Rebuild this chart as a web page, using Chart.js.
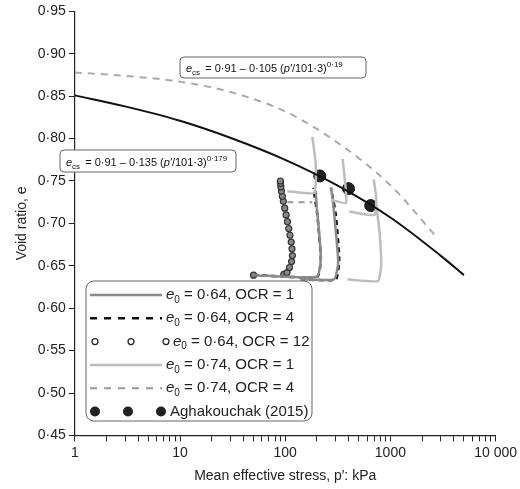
<!DOCTYPE html>
<html><head><meta charset="utf-8">
<script src="https://cdn.jsdelivr.net/npm/chart.js@4/dist/chart.umd.min.js"></script>
<style>html,body{margin:0;padding:0;background:#fff}#w{width:520px;height:489px}</style>
</head><body><div id="w"><canvas id="c"></canvas></div>
<script>
const xTickLabels = {1:'1',10:'10',100:'100',1000:'1000',10000:'10 000'};
const yTicks = [0.45,0.5,0.55,0.6,0.65,0.7,0.75,0.8,0.85,0.9,0.95];
const cslP = [1,3,10,30,100,300,1000,3000,5000];
const cslE = [0.851,0.838,0.821,0.801,0.775,0.746,0.707,0.662,0.639];
const csl2P = [1,3,10,30,100,300,1000,2740];
const csl2E = [0.878,0.874,0.867,0.855,0.832,0.797,0.745,0.684];
const a1 = [[50,.639],[200,.637],[218,.658],[210,.690],[200,.718],[195,.738]];
const a2 = [[140,.634],[292,.634],[319,.654],[303,.690],[282,.730],[272,.742]];
const a3 = [[392,.634],[760,.632],[817,.650],[788,.690],[733,.722]];
const b1 = [[50,.639],[202,.637],[218,.658],[202,.710],[185,.742]];
const b2 = [[140,.634],[303,.634],[326,.658],[303,.710],[272,.742]];
const c12 = [[50,.639],[97,.640],[104,.642],[110,.648],[115,.655],[117,.662],[116,.670],[114,.678],[111,.686],[108,.694],[105,.702],[102,.710],[99,.718],[96,.726],[94,.732],[92,.738],[91,.743],[90,.747],[90,.750]];
const d1 = [[105,.738],[188,.736],[195,.770],[181,.802]];
const d2 = [[272,.728],[378,.724],[370,.750],[351,.776]];
const d3 = [[407,.714],[706,.710],[733,.730],[695,.752]];
const e1 = [[105,.725],[181,.725]];
const aghaP = [213,400,650];
const aghaE = [0.756,0.741,0.721];

const pts = a => a.map(v=>({x:v[0],y:v[1]}));
const zip = (p,e) => p.map((v,i)=>({x:v,y:e[i]}));
const DG='#8a8a8a', LG='#bdbdbd';
const line = (data,color,dash,w)=>({data:pts(data),showLine:true,borderColor:color,borderWidth:w||2.5,borderDash:dash||[],pointRadius:0,tension:0.15,fill:false});
const F='"Liberation Sans", Arial, sans-serif';

const ds = [
  {data:zip(csl2P,csl2E),showLine:true,borderColor:'#aaaaaa',borderWidth:2,borderDash:[7,6],pointRadius:0,cubicInterpolationMode:'monotone'},
  {data:zip(cslP,cslE),showLine:true,borderColor:'#111',borderWidth:2,pointRadius:0,cubicInterpolationMode:'monotone'},
  line(d1,LG),line(d2,LG),line(d3,LG),
  line(e1,'#999',[6,5],2),
  line(a1,DG),line(a2,DG),line(a3,LG),
  line(b1,'#111',[5,4],2.5),line(b2,'#111',[5,4],2.5),
  {data:pts(c12),showLine:false,pointRadius:3,pointBorderColor:'#333',pointBackgroundColor:'#888',pointBorderWidth:1.2},
  {data:zip(aghaP,aghaE),showLine:false,pointRadius:6,pointBackgroundColor:'#222',pointBorderColor:'#111'}
];

function eqn(ctx,x,y,coef,exp){
  ctx.fillStyle='#111';ctx.textBaseline='alphabetic';ctx.textAlign='left';
  ctx.font='italic 11px '+F; ctx.fillText('e',x,y); x+=ctx.measureText('e').width;
  ctx.font='8px '+F; ctx.fillText('cs',x,y+3); x+=ctx.measureText('cs').width+2;
  ctx.font='11px '+F; let t=' = 0·91 – '+coef+' (';
  ctx.fillText(t,x,y); x+=ctx.measureText(t).width;
  ctx.font='italic 11px '+F; ctx.fillText('p′',x,y); x+=ctx.measureText('p′').width;
  ctx.font='11px '+F; t='/101·3)'; ctx.fillText(t,x,y); x+=ctx.measureText(t).width;
  ctx.font='8px '+F; ctx.fillText(exp,x,y-5);
}
function rrect(ctx,x,y,w,h,r){ctx.beginPath();ctx.roundRect(x,y,w,h,r);ctx.stroke();}

const deco = {id:'deco',afterDraw(ch){
  const ctx=ch.ctx; ctx.save();
  ctx.strokeStyle='#666';ctx.lineWidth=1;
  ctx.fillStyle='#fff';ctx.fillRect(180,57,186,21); rrect(ctx,180,57,186,21,4); eqn(ctx,186,72,'0·105','0·19');
  ctx.fillStyle='#fff';ctx.fillRect(60,150,176,22); rrect(ctx,60,150,176,22,4); eqn(ctx,66,166,'0·135','0·179');
  const lx=86, ly=281, lw=226, lh=140;
  ctx.fillStyle='#fff';ctx.fillRect(lx,ly,lw,lh);ctx.strokeStyle='#666';rrect(ctx,lx,ly,lw,lh,8);
  const rows=[['solid',DG,'0·64','1'],['dash','#111','0·64','4'],['circ','','0·64','12'],['solid',LG,'0·74','1'],['dash2','#999','0·74','4'],['dot','','','']];
  rows.forEach((r,i)=>{
    const yy=ly+14+i*23.3;
    ctx.setLineDash([]);
    if(r[0]==='solid'){ctx.strokeStyle=r[1];ctx.lineWidth=2.5;ctx.beginPath();ctx.moveTo(lx+4,yy);ctx.lineTo(lx+76,yy);ctx.stroke();}
    if(r[0]==='dash'||r[0]==='dash2'){ctx.strokeStyle=r[1];ctx.lineWidth=r[0]==='dash'?2.5:2;ctx.setLineDash([7,7]);ctx.beginPath();ctx.moveTo(lx+4,yy);ctx.lineTo(lx+76,yy);ctx.stroke();ctx.setLineDash([]);}
    if(r[0]==='circ'){ctx.strokeStyle='#222';ctx.lineWidth=1.2;[9,45,80].forEach(dx=>{ctx.beginPath();ctx.arc(lx+dx,yy,3,0,7);ctx.fillStyle='#fff';ctx.fill();ctx.stroke();});}
    if(r[0]==='dot'){ctx.fillStyle='#222';[9,42,75].forEach(dx=>{ctx.beginPath();ctx.arc(lx+dx,yy,5,0,7);ctx.fill();});}
    ctx.fillStyle='#222';ctx.textBaseline='middle';
    let x=lx+(r[0]==='solid'||r[0]==='dash'||r[0]==='dash2'?80:87);
    if(r[0]==='dot'){ctx.font='15px '+F;ctx.fillText('Aghakouchak (2015)',lx+84,yy);return;}
    ctx.font='italic 15px '+F;ctx.fillText('e',x,yy);x+=ctx.measureText('e').width;
    ctx.font='10px '+F;ctx.fillText('0',x,yy+5);x+=ctx.measureText('0').width;
    ctx.font='15px '+F;ctx.fillText(' = '+r[2]+', OCR = '+r[3],x,yy);
  });
  ctx.restore();
}};

new Chart(document.getElementById('c'),{type:'scatter',data:{datasets:ds},plugins:[deco],
options:{responsive:true,maintainAspectRatio:false,animation:false,
 layout:{padding:{top:2,right:16,left:10,bottom:0}},
 plugins:{legend:{display:false},tooltip:{enabled:false}},
 scales:{
  x:{type:'logarithmic',min:1,max:10000,
    border:{color:'#222',width:1.2},
    grid:{drawOnChartArea:false,tickLength:6,color:'#222'},
    ticks:{color:'#222',font:{family:F,size:14},autoSkip:false,maxRotation:0,callback:v=>xTickLabels[v]||''},
    afterBuildTicks:ax=>{const t=[];for(let d=1;d<=10000;d*=10){for(let k=1;k<10;k++){if(d*k<=10000)t.push({value:d*k});}}ax.ticks=t;},
    title:{display:true,text:"Mean effective stress, p′: kPa",color:'#222',font:{family:F,size:14}}},
  y:{min:0.45,max:0.95,
    border:{color:'#222',width:1.2},
    grid:{drawOnChartArea:false,tickLength:6,color:'#222'},
    afterBuildTicks:ax=>{ax.ticks=yTicks.map(v=>({value:v}));},
    ticks:{color:'#222',font:{family:F,size:14},callback:v=>v.toFixed(2).replace('.','·')},
    title:{display:true,text:'Void ratio, e',color:'#222',font:{family:F,size:14}}}
 }}});
</script></body></html>
